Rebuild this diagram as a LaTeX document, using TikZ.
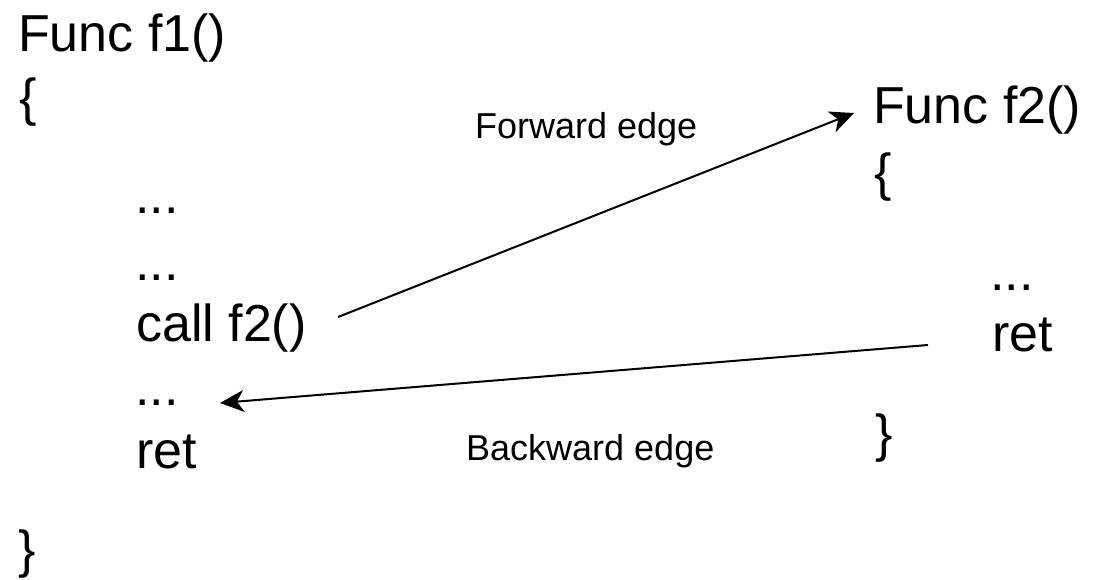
\documentclass[tikz,border=0pt]{standalone}
\usepackage{fontspec}
\setmainfont{Liberation Sans}
\usetikzlibrary{arrows.meta}
\begin{document}
\begin{tikzpicture}[x=1pt,y=-1pt,
  big/.style={inner sep=0pt,anchor=base west,font=\fontsize{52}{60}\selectfont},
  small/.style={inner sep=0pt,anchor=base west,font=\fontsize{36}{42}\selectfont},
  arr/.style={line width=2pt,-{Stealth[length=24pt,width=22pt,inset=7pt]}}]
\useasboundingbox[fill=white] (0,0) rectangle (1097,580);
% left function
\node[big] (f1title) at (18,52) {Func f1()};
\node[big] (f1open) at (19,116) {\{};
\node[big] (f1d1) at (135,214) {...};
\node[big] (f1d2) at (135,280) {...};
\node[big] (call) at (136,341) {call f2()};
\node[big] (f1d3) at (135,405) {...};
\node[big] (f1ret) at (136,468) {ret};
\node[big] (f1close) at (18,567) {\}};
% right function
\node[big] (f2title) at (873,124) {Func f2()};
\node[big] (f2open) at (874,190) {\{};
\node[big] (f2d) at (990,290) {...};
\node[big] (f2ret) at (992,351) {ret};
\node[big] (f2close) at (875,451) {\}};
% labels
\node[small] (fwdlbl) at (475,139) {Forward edge};
\node[small] (bwdlbl) at (466,460) {Backward edge};
% edges
\coordinate (fwdfrom) at (338,317);
\coordinate (fwdto) at (854,113);
\coordinate (bwdfrom) at (928,345);
\coordinate (bwdto) at (220,403);
\draw[arr] (fwdfrom) -- (fwdto);
\draw[arr] (bwdfrom) -- (bwdto);
\end{tikzpicture}
\end{document}
